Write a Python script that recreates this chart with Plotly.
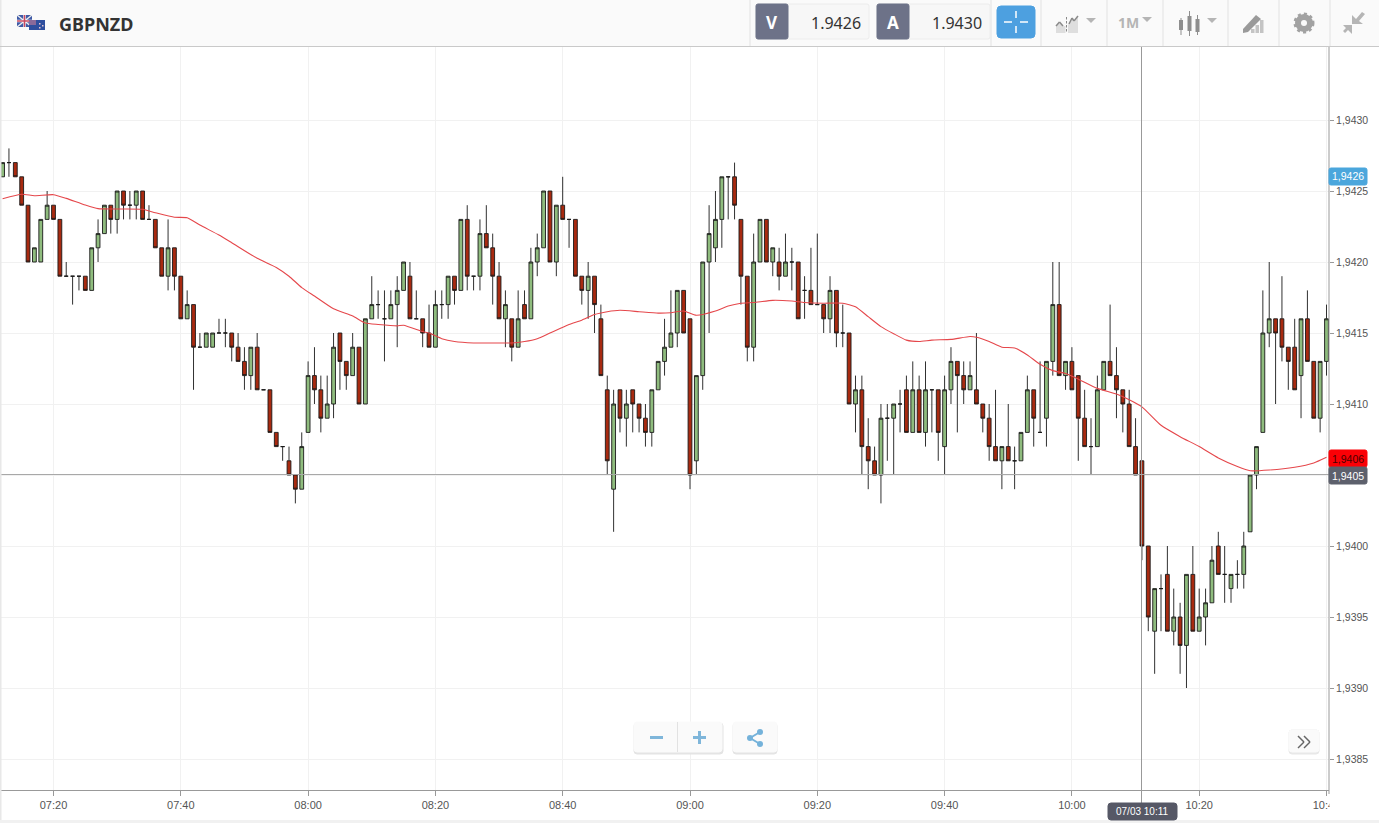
import numpy as np
import pandas as pd
import plotly.graph_objects as go

# price values are in pips above 1.9400
opens = [26,27,27,26,24,20,20,23,24,23,19,19,19,19,18,21,22,24,23,25,24,24,25,23,23,21,19,21,19,16,17,14,14,14,15,15,15,14,13,12,14,11,11,8,7,6,5,4,
         8,12,11,9,10,15,13,12,14,10,16,17,16,16,17,18,19,16,16,15,14,17,17,19,18,23,19,19,22,21,19,16,16,14,17,16,20,21,25,20,24,23,23,19,18,19,16,11,4,11,9,11,10,9,8,11,13,14,15,18,
         16,6,12,20,21,23,26,26,23,19,14,20,23,20,20,19,20,20,18,18,17,17,16,18,15,15,10,11,7,6,5,9,9,10,11,8,11,8,11,11,7,11,13,12,11,11,10,9,7,6,7,6,6,8,11,8,9,13,17,12,
         13,12,9,7,7,11,13,12,11,10,7,6,0,-6,-3,-2,-6,-5,-7,-2,-6,-5,-4,0,-2,-3,-2,-2,1,5,8,15,16,16,14,14,12,16,13,9,13]
highs = [27,28,27,26,24,21,23,25,24,23,20,19,19,19,21,23,24,24,25,25,25,25,25,24,23,21,23,21,19,18,17,15,15,15,16,16,15,15,14,14,15,11,11,8,7,7,5,8,
         13,14,12,12,15,15,13,15,14,16,19,18,18,18,19,20,20,18,16,17,18,18,19,19,23,24,19,23,24,22,20,18,16,18,18,21,22,25,25,24,26,23,23,19,20,19,17,12,11,11,11,11,10,10,11,13,16,18,18,18,
         16,12,20,24,25,26,26,27,23,19,22,23,23,21,21,22,21,20,19,21,22,17,19,18,17,15,12,12,9,7,10,10,10,11,12,13,12,13,11,11,12,14,13,13,13,15,10,10,11,7,10,7,8,12,11,13,13,20,20,13,
         14,12,11,9,12,13,17,14,11,11,9,6,0,-3,-2,0,-3,-4,-2,0,-3,-3,0,1,0,-2,-1,1,5,7,18,20,16,19,14,16,16,18,13,13,17]
lows = [26,26,26,24,20,20,20,23,23,19,19,17,18,18,18,20,22,22,22,23,23,23,23,23,21,19,18,18,16,16,11,14,14,14,15,14,13,13,11,11,11,11,8,7,6,5,3,4,
        8,10,8,9,9,11,11,12,10,10,16,16,13,16,14,18,16,16,14,14,14,16,16,17,18,18,18,18,21,17,16,14,13,14,16,16,19,21,20,19,23,21,19,17,16,15,12,5,1,8,7,8,8,7,7,11,12,14,14,15,
        4,5,11,15,20,21,23,23,17,13,13,20,20,19,18,19,18,16,16,17,17,15,15,14,14,10,8,5,4,5,3,6,5,8,8,8,8,7,8,6,5,10,8,10,11,10,8,6,6,4,6,4,6,8,7,8,7,12,12,11,
        11,6,7,5,7,11,12,9,8,7,5,-1,-6,-9,-6,-6,-7,-9,-10,-6,-6,-7,-4,-2,-4,-4,-3,-3,1,4,8,14,10,13,11,11,9,13,9,8,12]
closes = [27,27,26,24,20,21,23,24,23,19,19,19,19,18,21,22,24,23,25,24,24,25,23,23,21,19,21,19,16,17,14,14,15,15,15,15,14,13,12,14,11,11,8,7,7,5,4,7,
          12,11,9,10,14,13,12,14,10,16,17,17,16,17,18,20,16,16,15,14,17,17,19,18,23,19,19,22,21,19,16,17,14,16,16,20,21,25,20,24,23,23,19,18,19,17,12,6,10,9,10,10,9,8,11,13,14,15,18,15,
          5,12,20,22,23,26,26,24,19,14,20,23,20,21,19,20,20,16,18,17,17,16,18,15,15,10,11,7,6,5,9,9,10,10,8,11,8,11,11,8,11,13,12,11,12,10,9,7,6,7,6,6,8,11,9,8,13,17,12,13,
          11,9,7,7,11,13,12,11,10,7,5,0,-5,-3,-3,-6,-5,-7,-2,-6,-5,-4,-1,-2,-2,-2,-2,0,5,7,15,16,15,14,13,11,16,13,9,13,16]

ma_times = ["07:12","07:15","07:17","07:20","07:22","07:25","07:27","07:30","07:34","07:36","07:39","07:41","07:43","07:46","07:48",
            "07:52","07:55","07:57","07:59","08:01","08:04","08:07","08:09","08:11","08:14","08:15","08:18","08:19","08:21","08:23",
            "08:26","08:27","08:32","08:34","08:36","08:38","08:41","08:43","08:45","08:47","08:49","08:52","08:55","08:57","08:59",
            "09:01","09:04","09:06","09:08","09:10","09:13","09:16","09:18","09:21","09:24","09:26","09:28","09:30","09:32","09:34",
            "09:36","09:38","09:41","09:44","09:45","09:47","09:49","09:51","09:53","09:55","09:57","09:59","10:01","10:04","10:07",
            "10:09","10:11","10:14","10:17","10:20","10:23","10:26","10:28","10:31","10:35","10:38","10:40"]
ma_values = [24.46,24.77,24.67,24.74,24.48,24.01,23.76,23.73,23.71,23.47,23.15,23.12,22.6,21.9,21.36,
             20.26,19.62,19.0,18.2,17.6,16.7,16.2,15.7,15.6,15.5,15.55,15.1,15.0,14.6,14.4,
             14.3,14.3,14.3,14.4,14.6,15.0,15.6,15.9,16.3,16.5,16.6,16.5,16.4,16.43,16.55,
             16.25,16.55,16.9,17.1,17.15,17.3,17.25,17.15,17.1,17.1,16.85,16.15,15.45,14.95,14.5,
             14.4,14.5,14.55,14.75,14.7,14.4,14.0,13.95,13.45,12.8,12.35,12.15,11.75,11.1,10.7,
             10.3,9.8,8.5,7.7,7.0,6.2,5.6,5.3,5.35,5.55,5.85,6.25]

price_ticks = [1.9385, 1.9390, 1.9395, 1.9400, 1.9405, 1.9410, 1.9415, 1.9420, 1.9425, 1.9430]
crosshair_price = 1.9405
bid = "1.9426"
ask = "1.9430"
DAY = "2017-03-07 "

W, H = 1379, 823
PLOT_L, PLOT_R, PLOT_T, PLOT_B = 0, 1329, 47, 790


def pips(values):
    return 1.94 + np.array(values, dtype=float) / 10000


def px(x):
    return (x - PLOT_L) / (PLOT_R - PLOT_L)


def py(y):
    return (PLOT_B - y) / (PLOT_B - PLOT_T)


shapes = []
notes = []


def rect(x0, y0, x1, y1, fill, line=None, radius=0):
    if radius:
        r = radius
        path = (f"M {px(x0+r)} {py(y0)} L {px(x1-r)} {py(y0)} Q {px(x1)} {py(y0)} {px(x1)} {py(y0+r)} "
                f"L {px(x1)} {py(y1-r)} Q {px(x1)} {py(y1)} {px(x1-r)} {py(y1)} "
                f"L {px(x0+r)} {py(y1)} Q {px(x0)} {py(y1)} {px(x0)} {py(y1-r)} "
                f"L {px(x0)} {py(y0+r)} Q {px(x0)} {py(y0)} {px(x0+r)} {py(y0)} Z")
        shapes.append(dict(type="path", path=path, xref="paper", yref="paper", fillcolor=fill,
                           line=dict(color=line or fill, width=1)))
    else:
        shapes.append(dict(type="rect", xref="paper", yref="paper", x0=px(x0), x1=px(x1), y0=py(y0), y1=py(y1),
                           fillcolor=fill, line=dict(color=line or fill, width=1 if line else 0)))


def seg(x0, y0, x1, y1, color, width=1):
    shapes.append(dict(type="line", xref="paper", yref="paper", x0=px(x0), x1=px(x1), y0=py(y0), y1=py(y1),
                       line=dict(color=color, width=width)))


def poly(points, fill):
    path = "M " + " L ".join(f"{px(a)} {py(b)}" for a, b in points) + " Z"
    shapes.append(dict(type="path", path=path, xref="paper", yref="paper", fillcolor=fill, line=dict(width=0)))


def text(x, y, s, size=11, color="#444", anchor="center", family="Liberation Sans", bold=False):
    if bold:
        s = f"<b>{s}</b>"
    notes.append(dict(xref="paper", yref="paper", x=px(x), y=py(y), text=s, showarrow=False, xanchor=anchor,
                      yanchor="middle", font=dict(size=size, color=color, family=family)))


times = pd.date_range(DAY + "07:12", periods=len(opens), freq="min")

fig = go.Figure()
fig.add_trace(go.Candlestick(
    x=times, open=pips(opens), high=pips(highs), low=pips(lows), close=pips(closes),
    increasing=dict(fillcolor="#8fbc7e", line=dict(color="#1a1a1a", width=0.9)),
    decreasing=dict(fillcolor="#a82a10", line=dict(color="#1a1a1a", width=0.9)),
    whiskerwidth=0, showlegend=False,
))
fig.add_trace(go.Scatter(
    x=[DAY + t for t in ma_times], y=pips(ma_values), mode="lines",
    line=dict(color="#e5474b", width=1.1, shape="spline", smoothing=0.5), showlegend=False,
))

# crosshair
seg(1141.5, 47, 1141.5, 805, "#999")
seg(0, 474.5, 1329, 474.5, "#a8a8a8")

# hide the clipped end of the last time label
rect(1329.5, 791, 1379, 818, "#ffffff")
seg(1329, 47, 1329, 794, "#999")

# left edge shadow and bottom strip
rect(0, 47, 1.5, 823, "#e8e8e8")
rect(0, 820, 1379, 823, "#f1f1f1")

# toolbar
rect(0, 0, 1379, 46, "#fafafa")
seg(0, 46.5, 1379, 46.5, "#c9c9c9")
rect(0, 0, 1.5, 46, "#e8e8e8")

# flags
rect(17, 15, 32, 27, "#3f5aa6")
seg(17, 15, 32, 27, "#eee", 1.5)
seg(17, 27, 32, 15, "#eee", 1.5)
seg(24.5, 15, 24.5, 27, "#fff", 2.5)
seg(17, 21, 32, 21, "#fff", 2.5)
seg(24.5, 15, 24.5, 27, "#c9485f", 1.5)
seg(17, 21, 32, 21, "#c9485f", 1.5)
rect(29, 20, 45, 30, "#2f4f9e")
rect(29, 20, 36, 25, "#8a6a9a")
for sx, sy in [(39, 23), (42, 25), (39, 27)]:
    rect(sx, sy, sx + 1.5, sy + 1.5, "#e6c6d0")
text(57, 24, "GBPNZD", size=18, color="#333", anchor="left", family="Noto Sans", bold=True)

# bid and ask boxes
for sep in [750, 991, 1041, 1107, 1163, 1228, 1279, 1330]:
    seg(sep, 0, sep, 46, "#e2e2e2")
rect(756, 4, 869, 39, "#f7f7f7", "#ececec", 2)
rect(756, 4, 788, 39, "#6d7288", None, 2)
text(772, 23, "V", size=17, color="#fff", family="Noto Sans", bold=True)
text(863, 23, bid, size=16, color="#333", anchor="right", family="Noto Sans")
rect(877, 4, 990, 39, "#f7f7f7", "#ececec", 2)
rect(877, 4, 909, 39, "#6d7288", None, 2)
text(893, 23, "A", size=17, color="#fff", family="Noto Sans", bold=True)
text(984, 23, ask, size=16, color="#333", anchor="right", family="Noto Sans")
rect(997, 6, 1035, 38, "#4da0e0", None, 4)
seg(1004, 22, 1012, 22, "#fff", 1.5)
seg(1020, 22, 1028, 22, "#fff", 1.5)
seg(1016, 11, 1016, 18, "#fff", 1.5)
seg(1016, 26, 1016, 33, "#fff", 1.5)

# chart type icons
GREY = "#b5b5b5"
poly([(1056, 33), (1056, 26), (1059.5, 23), (1063, 26), (1065.5, 26), (1065.5, 33)], "#dedede")
poly([(1068, 33), (1068, 25), (1072, 19), (1074, 22), (1078, 17), (1078, 33)], "#dedede")
seg(1056, 26, 1059.5, 22, "#8a8a8a", 1.5)
seg(1059.5, 22, 1063, 26, "#8a8a8a", 1.5)
seg(1069, 24, 1072, 18, "#8a8a8a", 1.5)
seg(1072, 18, 1074, 21, "#8a8a8a", 1.5)
seg(1074, 21, 1078, 16, "#8a8a8a", 1.5)
for dash_y in [17, 21, 25, 29]:
    seg(1066.5, dash_y, 1066.5, dash_y + 2.5, "#888", 1)
poly([(1086, 18), (1096, 18), (1091, 23)], GREY)
text(1128, 23, "1M", size=14, color=GREY, family="Noto Sans", bold=True)
poly([(1142, 17), (1152, 17), (1147, 22)], GREY)
for cx, y0, y1, b0, b1 in [(1181, 18, 35, 20, 30), (1189.5, 11, 36, 16, 31), (1197.5, 15, 35, 19, 32)]:
    seg(cx, y0, cx, y1, "#8e8e8e", 1)
    rect(cx - 2, b0, cx + 2, b1, "#8e8e8e")
poly([(1207, 18), (1217, 18), (1212, 23)], GREY)

# drawing tool
for bx, top in [(1251, 29), (1255.5, 25), (1260, 20)]:
    rect(bx, top, bx + 3.5, 33, "#c4c4c4")
poly([(1243, 29), (1256, 15), (1261, 19), (1248, 32), (1243, 33)], "#9a9a9a")

# settings gear
shapes.append(dict(type="circle", xref="paper", yref="paper", x0=px(1295), x1=px(1313), y0=py(32), y1=py(14),
                   fillcolor="#a2a2a2", line=dict(color="#a2a2a2", width=3, dash="dot")))
shapes.append(dict(type="circle", xref="paper", yref="paper", x0=px(1301), x1=px(1307), y0=py(26), y1=py(20),
                   fillcolor="#fafafa", line=dict(width=0)))

# collapse arrows
poly([(1352, 24), (1352, 15), (1356, 19), (1362, 12), (1365, 14), (1359, 21), (1363, 24)], GREY)
poly([(1343, 25), (1352, 25), (1352, 34), (1348, 30), (1345, 33), (1343, 31), (1346, 28)], GREY)

# price labels on the axis
rect(1329, 168, 1367, 185, "#4ba6dc", None, 2)
text(1348, 176.5, bid.replace(".", ","), size=10.5, color="#fff")
rect(1329, 450, 1367, 467, "#fb0006", None, 2)
text(1348, 458.5, "1,9406", size=10.5, color="#4a0000")
rect(1329, 467, 1367, 484, "#5d606c", None, 2)
text(1348, 476, f"{crosshair_price:.4f}".replace(".", ","), size=10.5, color="#fff")

# time tag
rect(1108, 803, 1177, 820, "#565866", None, 3)
text(1142.5, 811.5, "07/03 10:11", size=10, color="#fff")

# zoom and share buttons
rect(634, 723, 723, 754, "#e4e4e4", None, 3)
rect(634, 722, 722, 752, "#fafafa", None, 3)
seg(677.5, 722, 677.5, 752, "#e2e2e2")
rect(650, 736, 663, 739, "#7fb6da")
rect(693, 736, 706, 739, "#7fb6da")
rect(698, 731, 701, 744, "#7fb6da")
rect(733, 723, 777, 754, "#e4e4e4", None, 3)
rect(733, 722, 777, 752, "#fafafa", None, 3)
seg(760, 732, 750, 738, "#74b2da", 2)
seg(750, 738, 760, 744, "#74b2da", 2)
for cx, cy in [(760, 732), (750, 738), (760, 744)]:
    shapes.append(dict(type="circle", xref="paper", yref="paper", x0=px(cx - 3), x1=px(cx + 3), y0=py(cy + 3),
                       y1=py(cy - 3), fillcolor="#74b2da", line=dict(width=0)))

# scroll to end button
rect(1289, 730, 1319, 754, "#e8e8e8", None, 3)
rect(1289, 730, 1319, 752, "#fafafa", None, 3)
for ox in [0, 6]:
    seg(1298 + ox, 736, 1304 + ox, 742, "#666", 1.5)
    seg(1304 + ox, 742, 1298 + ox, 748, "#666", 1.5)

# axis ranges in data units, so the grid lands where the reference grid is
y_top = 1.9430 + (120 - PLOT_T) / 14.2 / 10000
y_bottom = 1.9430 - (PLOT_B - 120) / 14.2 / 10000
x_left = pd.Timestamp(DAY + "07:20") - pd.Timedelta(minutes=53.5 / 6.365)
x_right = pd.Timestamp(DAY + "07:20") + pd.Timedelta(minutes=(PLOT_R - 53.5) / 6.365)

# the crosshair price sits in its own tag, so its tick stays unlabelled
tick_labels = ["" if v == crosshair_price else f"{v:.4f}".replace(".", ",") for v in price_ticks]

fig.update_layout(
    width=W, height=H,
    margin=dict(l=PLOT_L, r=W - PLOT_R, t=PLOT_T, b=H - PLOT_B, autoexpand=False),
    paper_bgcolor="#ffffff", plot_bgcolor="#ffffff",
    boxgap=0.25, boxgroupgap=0.2,
    font=dict(family="Liberation Sans", size=11, color="#555"),
    shapes=shapes, annotations=notes,
    hovermode=False,
    xaxis=dict(
        type="date", range=[x_left, x_right], rangeslider=dict(visible=False),
        dtick=20 * 60000, tick0=DAY + "07:20", tickformat="%H:%M",
        showgrid=True, gridcolor="#f1f1f1", gridwidth=1, zeroline=False,
        showline=True, linecolor="#999", linewidth=1,
        ticks="outside", ticklen=5, tickcolor="#999", tickfont=dict(size=11, color="#555"),
    ),
    yaxis=dict(
        side="right", range=[y_bottom, y_top], tickvals=price_ticks, ticktext=tick_labels,
        showgrid=True, gridcolor="#f1f1f1", gridwidth=1, zeroline=False,
        showline=False,
        ticks="outside", ticklen=4, tickcolor="#999", tickfont=dict(size=10.5, color="#555"),
    ),
)

fig.write_html("out.html", config=dict(displayModeBar=False),
               post_script="document.body.style.margin='0';document.body.style.overflow='hidden';")
